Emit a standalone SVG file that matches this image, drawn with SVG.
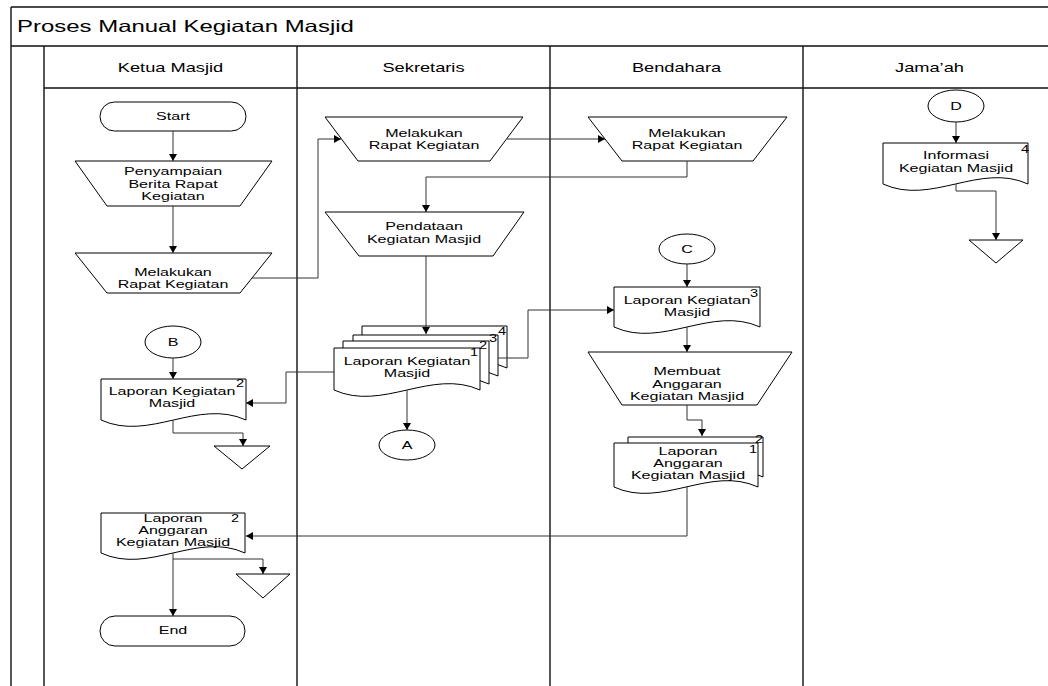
<svg xmlns="http://www.w3.org/2000/svg" width="1048" height="686" viewBox="0 0 1048 686">
<style>
text{font-family:"Liberation Sans",Arial,sans-serif;fill:#000}
.t{font-size:11px;text-anchor:middle}
.n{font-size:10px;text-anchor:middle}
.h{font-size:12.5px;text-anchor:middle}
.ttl{font-size:16.3px}
.s{fill:#fff;stroke:#000;stroke-width:1}
.frame{stroke:#111;stroke-width:1.4;fill:none}
.c{fill:none;stroke:#333;stroke-width:1}
.ca{fill:none;stroke:#333;stroke-width:1;marker-end:url(#arr)}
</style>
<defs>
<marker id="arr" markerUnits="userSpaceOnUse" markerWidth="9" markerHeight="9" refX="7" refY="4" orient="auto">
<path d="M0,0 L7,4 L0,8 z" fill="#000"/>
</marker>
</defs>
<rect x="0" y="0" width="1048" height="686" fill="#fff"/>

<g id="frame">
<path class="frame" d="M11,7 H1048 M11,7 V686 M11,46 H1048 M44,46 V686 M44,88 H1048 M297,46 V686 M550,46 V686 M803,46 V686"/>
<text class="ttl" transform="translate(17,32) scale(1.47,1)">Proses Manual Kegiatan Masjid</text>
<text class="h" transform="translate(170.5,72) scale(1.46,1)">Ketua Masjid</text>
<text class="h" transform="translate(423.5,72) scale(1.46,1)">Sekretaris</text>
<text class="h" transform="translate(676.5,72) scale(1.46,1)">Bendahara</text>
<text class="h" transform="translate(929.5,72) scale(1.46,1)">Jama’ah</text>
</g>

<g id="start">
<rect class="s" x="100" y="102" width="146" height="29" rx="14.5" ry="14.5"/>
<text class="t" transform="translate(173,120) scale(1.46,1)">Start</text>
</g>

<g id="penyampaian">
<polygon class="s" points="75,161 272,161 240,206 107,206"/>
<text class="t" transform="translate(173,0) scale(1.46,1)"><tspan x="0" y="175">Penyampaian</tspan><tspan x="0" y="188">Berita Rapat</tspan><tspan x="0" y="200">Kegiatan</tspan></text>
</g>

<g id="rapat-ketua">
<polygon class="s" points="75,253 272,253 240,293 107,293"/>
<text class="t" transform="translate(173,0) scale(1.46,1)"><tspan x="0" y="276">Melakukan</tspan><tspan x="0" y="288">Rapat Kegiatan</tspan></text>
</g>

<g id="rapat-sekretaris">
<polygon class="s" points="325,117 523,117 490,161 358,161"/>
<text class="t" transform="translate(424,0) scale(1.46,1)"><tspan x="0" y="137">Melakukan</tspan><tspan x="0" y="149">Rapat Kegiatan</tspan></text>
</g>

<g id="rapat-bendahara">
<polygon class="s" points="588,117 787,117 753,161 622,161"/>
<text class="t" transform="translate(687,0) scale(1.46,1)"><tspan x="0" y="137">Melakukan</tspan><tspan x="0" y="149">Rapat Kegiatan</tspan></text>
</g>

<g id="pendataan">
<polygon class="s" points="325,212 524,212 493,256 359,256"/>
<text class="t" transform="translate(424,0) scale(1.46,1)"><tspan x="0" y="230">Pendataan</tspan><tspan x="0" y="243">Kegiatan Masjid</tspan></text>
</g>

<g id="laporan-stack">
<path class="s" d="M362,326 H507 V368 C458.7,346 410.3,390 362,368 Z"/>
<path class="s" d="M353,335 H498 V376 C449.7,354 401.3,398 353,376 Z"/>
<path class="s" d="M343,341 H489 V384 C440.3,362 391.7,406 343,384 Z"/>
<path class="s" d="M334,348 H480 V390 C431.3,368 382.7,412 334,390 Z"/>
<text class="t" transform="translate(407,0) scale(1.46,1)"><tspan x="0" y="365">Laporan Kegiatan</tspan><tspan x="0" y="377">Masjid</tspan></text>
<text class="n" transform="translate(474,356) scale(1.46,1)">1</text>
<text class="n" transform="translate(483,349) scale(1.46,1)">2</text>
<text class="n" transform="translate(493,342) scale(1.46,1)">3</text>
<text class="n" transform="translate(502,335) scale(1.46,1)">4</text>
</g>

<g id="conn-a">
<ellipse class="s" cx="407" cy="445" rx="28" ry="15"/>
<text class="t" transform="translate(407,449) scale(1.46,1)">A</text>
</g>

<g id="conn-b">
<ellipse class="s" cx="173" cy="342" rx="28" ry="16"/>
<text class="t" transform="translate(173,346) scale(1.46,1)">B</text>
</g>

<g id="laporan-ketua">
<path class="s" d="M101,379 H246 V420 C197.7,398 149.3,442 101,420 Z"/>
<text class="t" transform="translate(172,0) scale(1.46,1)"><tspan x="0" y="395">Laporan Kegiatan</tspan><tspan x="0" y="407">Masjid</tspan></text>
<text class="n" transform="translate(240,387) scale(1.46,1)">2</text>
</g>

<g id="arsip-ketua-1">
<polygon class="s" points="214,446 270,446 242,469"/>
</g>

<g id="conn-c">
<ellipse class="s" cx="687" cy="249" rx="28" ry="15"/>
<text class="t" transform="translate(687,253) scale(1.46,1)">C</text>
</g>

<g id="laporan-bendahara">
<path class="s" d="M614,287 H760 V327 C711.3,305 662.7,349 614,327 Z"/>
<text class="t" transform="translate(687,0) scale(1.46,1)"><tspan x="0" y="304">Laporan Kegiatan</tspan><tspan x="0" y="316">Masjid</tspan></text>
<text class="n" transform="translate(754,297) scale(1.46,1)">3</text>
</g>

<g id="membuat-anggaran">
<polygon class="s" points="588,352 792,352 757,405 622,405"/>
<text class="t" transform="translate(687,0) scale(1.46,1)"><tspan x="0" y="375">Membuat</tspan><tspan x="0" y="388">Anggaran</tspan><tspan x="0" y="400">Kegiatan Masjid</tspan></text>
</g>

<g id="anggaran-bendahara">
<path class="s" d="M628,437 H763 V477 C718,455 673,499 628,477 Z"/>
<path class="s" d="M614,443 H758 V487 C710,465 662,509 614,487 Z"/>
<text class="t" transform="translate(688,0) scale(1.46,1)"><tspan x="0" y="455">Laporan</tspan><tspan x="0" y="467">Anggaran</tspan><tspan x="0" y="479">Kegiatan Masjid</tspan></text>
<text class="n" transform="translate(759,443) scale(1.46,1)">2</text>
<text class="n" transform="translate(753,453) scale(1.46,1)">1</text>
</g>

<g id="anggaran-ketua">
<path class="s" d="M101,513 H245 V553 C197,531 149,575 101,553 Z"/>
<text class="t" transform="translate(173,0) scale(1.46,1)"><tspan x="0" y="522">Laporan</tspan><tspan x="0" y="534">Anggaran</tspan><tspan x="0" y="546">Kegiatan Masjid</tspan></text>
<text class="n" transform="translate(235,522) scale(1.46,1)">2</text>
</g>

<g id="arsip-ketua-2">
<polygon class="s" points="236,574 290,574 263,598"/>
</g>

<g id="end">
<rect class="s" x="100" y="616" width="145" height="30" rx="15" ry="15"/>
<text class="t" transform="translate(173,634) scale(1.46,1)">End</text>
</g>

<g id="conn-d">
<ellipse class="s" cx="956" cy="106" rx="28" ry="16"/>
<text class="t" transform="translate(956,110) scale(1.46,1)">D</text>
</g>

<g id="informasi">
<path class="s" d="M883,143 H1028 V184 C979.7,162 931.3,206 883,184 Z"/>
<text class="t" transform="translate(956,0) scale(1.46,1)"><tspan x="0" y="159">Informasi</tspan><tspan x="0" y="172">Kegiatan Masjid</tspan></text>
<text class="n" transform="translate(1025,153) scale(1.46,1)">4</text>
</g>

<g id="arsip-jamaah">
<polygon class="s" points="969,240 1023,240 996,263"/>
</g>

<g id="connectors">
<path class="ca" d="M173,131 V161"/>
<path class="ca" d="M173,206 V253"/>
<path class="ca" d="M252,278 H318 V139 H341"/>
<path class="ca" d="M507,139 H605"/>
<path class="ca" d="M687,161 V177 H426 V212"/>
<path class="ca" d="M426,256 V334"/>
<path class="ca" d="M334,372 H286 V403 H246"/>
<path class="ca" d="M498,358 H528 V310 H614"/>
<path class="ca" d="M407,390 V430"/>
<path class="ca" d="M173,358 V379"/>
<path class="ca" d="M173,420 V433 H243 V446"/>
<path class="ca" d="M687,264 V287"/>
<path class="ca" d="M687,327 V352"/>
<path class="ca" d="M687,405 V420 H702 V436"/>
<path class="ca" d="M687,487 V536 H246"/>
<path class="ca" d="M173,553 V616"/>
<path class="ca" d="M173,559 H263 V574"/>
<path class="ca" d="M956,122 V143"/>
<path class="ca" d="M956,184 V191 H996 V240"/>
</g>
</svg>
